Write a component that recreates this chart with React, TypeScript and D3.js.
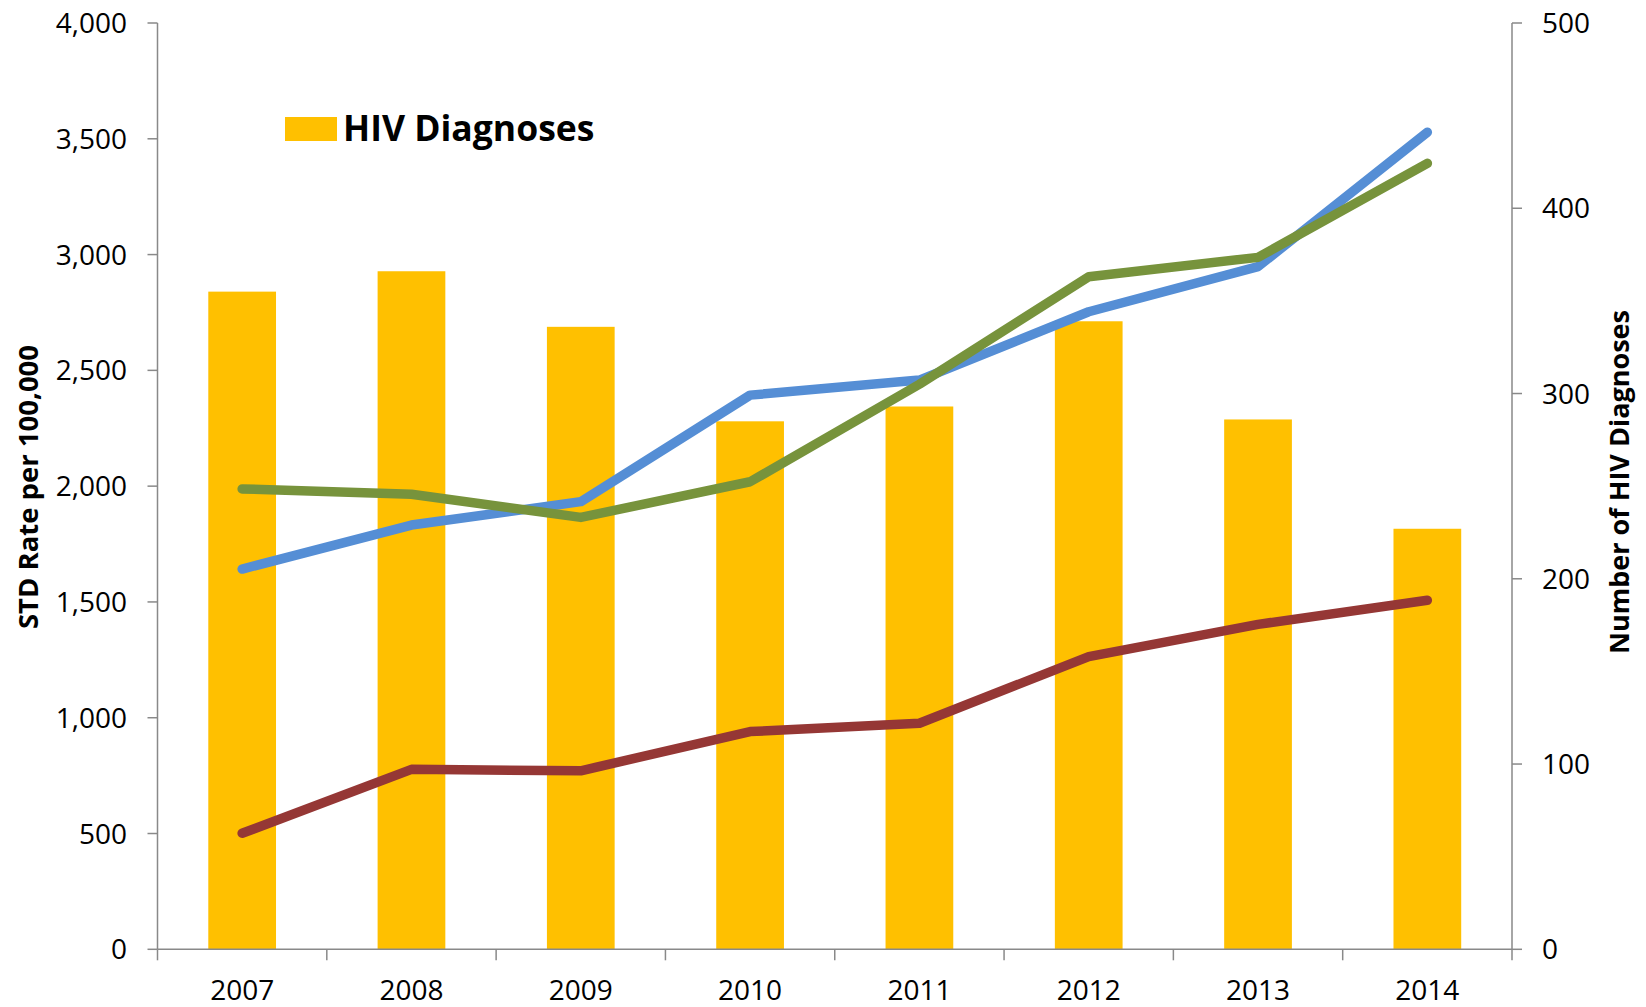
import React from "react";
import * as d3 from "d3";

const years = ["2007", "2008", "2009", "2010", "2011", "2012", "2013", "2014"];
const hivDiagnoses = [355, 366, 336, 285, 293, 339, 286, 227];
const blueRate = [1642, 1832, 1933, 2393, 2458, 2753, 2948, 3528];
const greenRate = [1988, 1965, 1865, 2019, 2440, 2904, 2988, 3394];
const redRate = [501, 777, 771, 940, 976, 1264, 1403, 1507];
const leftTicks = [0, 500, 1000, 1500, 2000, 2500, 3000, 3500, 4000];
const rightTicks = [0, 100, 200, 300, 400, 500];

const W = 1646;
const H = 1007;
const x0 = 157.5;
const x1 = 1512;
const yTop = 23;
const yBot = 949.3;
const FONT = "'Open Sans', 'Liberation Sans', sans-serif";
const AXIS = "#898989";

export default function App() {
  const x = d3.scaleBand<string>().domain(years).range([x0, x1]).padding(0);
  const yL = d3.scaleLinear().domain([0, 4000]).range([yBot, yTop]);
  const yR = d3.scaleLinear().domain([0, 500]).range([yBot, yTop]);
  const bw = x.bandwidth() * 0.4;
  const cx = (y: string) => (x(y) as number) + x.bandwidth() / 2;
  const line = d3
    .line<number>()
    .x((_, i) => cx(years[i]))
    .y((d) => yL(d));
  const fmt = d3.format(",");
  const series = [
    { data: blueRate, color: "#558ED5" },
    { data: greenRate, color: "#77933C" },
    { data: redRate, color: "#953735" },
  ];
  const xTickPos = [...years.map((y) => x(y) as number), x1];

  return (
    <svg
      width={W}
      height={H}
      style={{ position: "absolute", left: 0, top: 0, background: "#fff" }}
      fontFamily={FONT}
    >
      {/* bars */}
      {years.map((y, i) => (
        <rect
          key={y}
          x={cx(y) - bw / 2}
          width={bw}
          y={yR(hivDiagnoses[i])}
          height={yBot - yR(hivDiagnoses[i])}
          fill="#FFC000"
        />
      ))}
      {/* lines */}
      {series.map((s, i) => (
        <path
          key={i}
          d={line(s.data) || ""}
          fill="none"
          stroke={s.color}
          strokeWidth={9.5}
          strokeLinecap="round"
          strokeLinejoin="round"
        />
      ))}
      {/* left axis */}
      <line x1={x0} x2={x0} y1={yTop} y2={yBot} stroke={AXIS} strokeWidth={1.5} />
      {leftTicks.map((t) => (
        <g key={t}>
          <line x1={x0 - 10} x2={x0} y1={yL(t)} y2={yL(t)} stroke={AXIS} strokeWidth={1.5} />
          <text x={127} y={yL(t) + 10} textAnchor="end" fontSize={28} fill="#000">
            {fmt(t)}
          </text>
        </g>
      ))}
      {/* right axis */}
      <line x1={x1} x2={x1} y1={yTop} y2={yBot} stroke={AXIS} strokeWidth={1.5} />
      {rightTicks.map((t) => (
        <g key={t}>
          <line x1={x1} x2={x1 + 10} y1={yR(t)} y2={yR(t)} stroke={AXIS} strokeWidth={1.5} />
          <text x={1542} y={yR(t) + 10} textAnchor="start" fontSize={28} fill="#000">
            {t}
          </text>
        </g>
      ))}
      {/* x axis */}
      <line x1={x0} x2={x1} y1={yBot} y2={yBot} stroke={AXIS} strokeWidth={1.5} />
      {xTickPos.map((p, i) => (
        <line key={i} x1={p} x2={p} y1={yBot} y2={yBot + 11} stroke={AXIS} strokeWidth={1.5} />
      ))}
      {years.map((y) => (
        <text key={y} x={cx(y)} y={1000} textAnchor="middle" fontSize={28} fill="#000">
          {y}
        </text>
      ))}
      {/* axis titles */}
      <text
        transform="translate(38,487) rotate(-90)"
        textAnchor="middle"
        fontSize={27.5}
        fontWeight="bold"
        fill="#000"
      >
        STD Rate per 100,000
      </text>
      <text
        transform="translate(1629,482) rotate(-90)"
        textAnchor="middle"
        fontSize={27}
        fontWeight="bold"
        fill="#000"
      >
        Number of HIV Diagnoses
      </text>
      {/* legend */}
      <rect x={285} y={117} width={52} height={24} fill="#FFC000" />
      <text x={343} y={141} fontSize={35.5} fontWeight="bold" fill="#000">
        HIV Diagnoses
      </text>
    </svg>
  );
}
